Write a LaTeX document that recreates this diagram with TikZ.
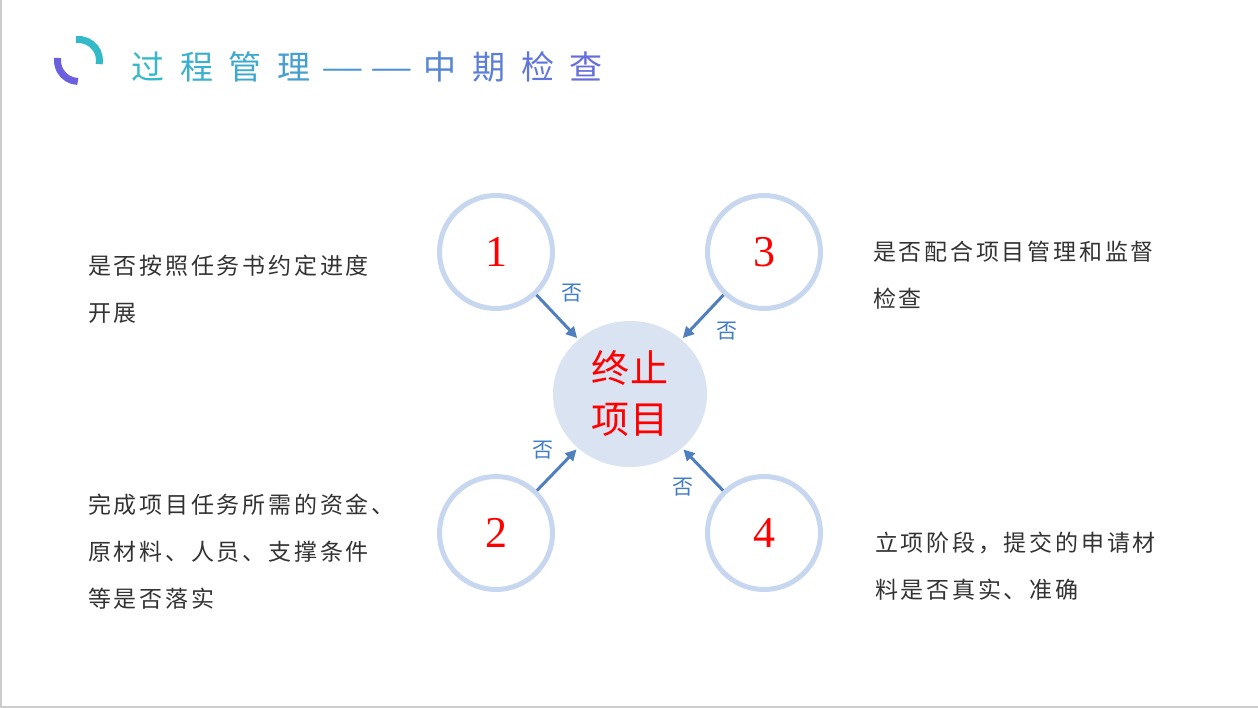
\documentclass[tikz,border=0pt]{standalone}
\usepackage{fontspec}
\usetikzlibrary{arrows.meta,shapes.geometric}
\newfontfamily\cjk{Noto Sans CJK SC}
\newfontfamily\numfont{Liberation Serif}
\definecolor{tealc}{RGB}{52,185,200}
\definecolor{purpc}{RGB}{102,110,220}
\definecolor{ringc}{RGB}{198,215,239}
\definecolor{hubc}{RGB}{218,227,241}
\definecolor{arrc}{RGB}{79,127,190}
\definecolor{noc}{RGB}{63,125,196}
\definecolor{bodyc}{RGB}{51,51,51}
\definecolor{framec}{RGB}{205,205,205}
\definecolor{logot}{RGB}{50,186,200}
\definecolor{logop}{RGB}{106,96,222}
\tikzset{
  numc/.style={circle, draw=ringc, line width=5pt, minimum size=113pt, inner sep=0pt,
    text=red, font=\numfont\fontsize{44}{44}\selectfont},
  hub/.style={ellipse, fill=hubc, minimum width=154pt, minimum height=146pt, inner sep=0pt,
    text=red, align=center, font=\cjk\fontsize{38}{51}\selectfont\addfontfeature{LetterSpace=5}},
  arr/.style={draw=arrc, line width=3pt, -{Triangle[length=11pt,width=11pt]}, shorten >=2pt},
  nolab/.style={text=noc, font=\cjk\fontsize{21}{21}\selectfont, inner sep=0pt},
  body/.style={anchor=west, align=left, text=bodyc, inner sep=0pt,
    font=\cjk\fontsize{23}{47}\selectfont\addfontfeature{LetterSpace=12}},
  ttl/.style={anchor=base, inner sep=0pt, font=\cjk\fontsize{33}{33}\selectfont},
  logoarc/.style={line width=7pt}
}
\begin{document}
\begin{tikzpicture}[x=1pt,y=-1pt]
\useasboundingbox (0,0) rectangle (1258,708);
\fill[white] (0,0) rectangle (1258,708);
% frame lines
\draw[framec, line width=1.5pt] (0.75,0) -- (0.75,708);
\draw[framec, line width=2pt] (0,707) -- (1258,707);
% logo
\coordinate (lc) at (78.5,60.5);
\draw[logoarc, logot] (lc) ++(-97:21) arc[start angle=-97, end angle=10, radius=21];
\draw[logoarc, logop] (lc) ++(92:21) arc[start angle=92, end angle=187, radius=21];
% title
\foreach \ch [count=\i from 0] in {过,程,管,理,\scalebox{1.45}[1]{—},\scalebox{1.45}[1]{—},中,期,检,查}{
  \pgfmathtruncatemacro\p{100-\i*100/9}
  \node[ttl, text=tealc!\p!purpc] (t\i) at (148+\i*48.7,80) {\ch};
}
% hub and rings
\node[hub] (c0) at (630,394) {终止\\项目};
\node[numc] (c1) at (496,252) {1};
\node[numc] (c3) at (764,252) {3};
\node[numc] (c2) at (496,533) {2};
\node[numc] (c4) at (764,533) {4};
% arrows
\draw[arr] (c1) -- (c0);
\draw[arr] (c3) -- (c0);
\draw[arr] (c2) -- (c0);
\draw[arr] (c4) -- (c0);
\node[nolab] (n1) at (572,293) {否};
\node[nolab] (n3) at (727,331) {否};
\node[nolab] (n2) at (543,450) {否};
\node[nolab] (n4) at (683,487) {否};
% descriptions
\node[body] (d1) at (88,289.5) {是否按照任务书约定进度\\开展};
\node[body] (d2) at (88,552) {完成项目任务所需的资金、\\原材料、人员、支撑条件\\等是否落实};
\node[body] (d3) at (873,275) {是否配合项目管理和监督\\检查};
\node[body] (d4) at (875,566.5) {立项阶段，提交的申请材\\料是否真实、准确};
\end{tikzpicture}
\end{document}
